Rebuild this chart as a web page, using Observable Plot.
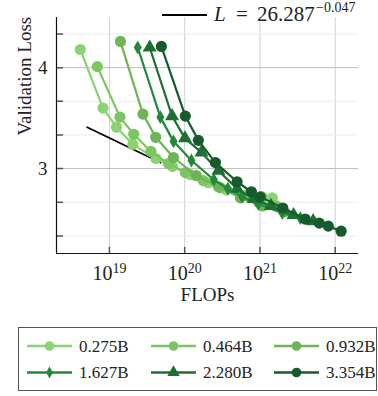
<!DOCTYPE html>
<html><head><meta charset="utf-8">
<script src="https://cdn.jsdelivr.net/npm/d3@7"></script>
<script src="https://cdn.jsdelivr.net/npm/@observablehq/plot@0.6"></script>
<style>
body{margin:0;background:#fff;}
#wrap{position:relative;width:378px;height:396px;font-family:"Liberation Serif",serif;}
#wrap svg{display:block;}
</style></head><body><div id="wrap"></div>
<script>
const seriesNames = ["0.275B","0.464B","0.932B","1.627B","2.280B","3.354B"];
const seriesColors = ["#8bd372","#7cc562","#6fb456","#22883a","#1c7033","#175a2c"];
const seriesSymbols = ["circle","circle","circle","diamond","triangle","circle"];

const flops_0275 = [4.1e18, 8.2e18, 1.24e19, 2.05e19, 4.15e19, 6.9e19, 1.19e20, 2.07e20, 3.58e20, 6.6e20, 1.08e21, 1.46e21];
const loss_0275  = [4.18, 3.60, 3.41, 3.24, 3.10, 3.02, 2.94, 2.86, 2.79, 2.74, 2.72, 2.71];
const flops_0464 = [6.9e18, 1.38e19, 2.1e19, 3.56e19, 6.1e19, 1.02e20, 1.77e20, 2.98e20, 5.5e20, 9.5e20, 1.65e21];
const loss_0464  = [4.01, 3.51, 3.34, 3.17, 3.05, 2.96, 2.88, 2.81, 2.73, 2.67, 2.63];
const flops_0932 = [1.4e19, 2.79e19, 4.12e19, 7.1e19, 1.43e20, 2.81e20, 5.5e20, 1.08e21, 2.11e21];
const loss_0932  = [4.26, 3.54, 3.31, 3.11, 2.93, 2.82, 2.71, 2.63, 2.57];
const flops_1627 = [2.38e19, 4.75e19, 7.1e19, 1.23e20, 2.44e20, 3.75e20, 5.8e20, 9.5e20, 1.98e21, 3.44e21];
const loss_1627  = [4.20, 3.51, 3.27, 3.08, 2.89, 2.80, 2.72, 2.65, 2.56, 2.51];
const flops_2280 = [3.43e19, 6.8e19, 1.01e20, 1.67e20, 2.81e20, 4.97e20, 8.2e20, 1.4e21, 2.8e21, 5.1e21];
const loss_2280  = [4.20, 3.52, 3.30, 3.16, 2.98, 2.80, 2.70, 2.63, 2.54, 2.48];
const flops_3354 = [4.9e19, 1.02e20, 1.52e20, 2.56e20, 4.97e20, 7.7e20, 1.01e21, 2.01e21, 4.0e21, 6.15e21, 8.1e21, 1.2e22];
const loss_3354  = [4.21, 3.52, 3.28, 3.06, 2.87, 2.77, 2.72, 2.61, 2.50, 2.46, 2.43, 2.38];

const fitFlops = [5.06e18, 4.75e19];
const fitLoss = [3.41, 3.06];
const fitLabel = {lhs: "L", eq: "=", base: "26.287", exp: "\u22120.047"};

const xTicks = [1e19, 1e20, 1e21, 1e22];
const yMajorTicks = [3, 4];
const yMinorTicks = [2.333, 2.667, 3.333, 3.667, 4.333];
const xDomain = [1.98e18, 2.04e22];
const yDomain = [2.159, 4.497];

const flopsList = [flops_0275, flops_0464, flops_0932, flops_1627, flops_2280, flops_3354];
const lossList = [loss_0275, loss_0464, loss_0932, loss_1627, loss_2280, loss_3354];

const seriesRows = seriesNames.map((name, i) =>
  flopsList[i].map((f, j) => ({series: name, flops: f, loss: lossList[i][j]})));
const fitRows = fitFlops.map((f, j) => ({flops: f, loss: fitLoss[j]}));

const tickShape = {draw(ctx, l) { ctx.moveTo(0, 0); ctx.lineTo(0, -l); }};
const symSize = {circle: 5.6, diamond: 4.2, triangle: 5.2};

const marks = [
  Plot.ruleX(xTicks, {stroke: "#d0d0d0", strokeWidth: 1}),
  Plot.ruleY(yMinorTicks, {stroke: "#ececec", strokeWidth: 1}),
  Plot.ruleY(yMajorTicks, {stroke: "#bcbcbc", strokeWidth: 1}),
  Plot.vector([...yMinorTicks, ...yMajorTicks], {x: () => xDomain[0], y: d => d, length: 6, rotate: 90, anchor: "start", shape: tickShape, stroke: "#555"}),
  Plot.vector(xTicks, {x: d => d, y: () => yDomain[0], length: 6, rotate: 0, anchor: "start", shape: tickShape, stroke: "#555"}),
  Plot.ruleX([xDomain[0]], {stroke: "#111", strokeWidth: 1.2}),
  Plot.ruleY([yDomain[0]], {stroke: "#111", strokeWidth: 1.2}),
  Plot.line(fitRows, {x: "flops", y: "loss", stroke: "#000", strokeWidth: 1.8})
];
seriesRows.forEach((rows, i) => {
  marks.push(Plot.line(rows, {x: "flops", y: "loss", stroke: seriesColors[i], strokeWidth: 2.2}));
  marks.push(Plot.dot(rows, {x: "flops", y: "loss", fill: seriesColors[i], stroke: "none",
    symbol: seriesSymbols[i], r: symSize[seriesSymbols[i]]}));
});
marks.push(
  Plot.axisY(yMajorTicks, {tickSize: 0, tickPadding: 9, fontSize: 19, label: null, tickFormat: d => String(d)}),
  Plot.axisX(xTicks, {tickSize: 0, tickPadding: 12, fontSize: 20, label: null, tickFormat: d => String(Math.round(Math.log10(d)))}),
  Plot.text(["FLOPs"], {text: d => d, frameAnchor: "bottom", dy: 47, fontSize: 19, fill: "#222"}),
  Plot.text(["Validation Loss"], {text: d => d, frameAnchor: "left", dx: -32, rotate: -90, fontSize: 19, fill: "#222"})
);

const svg = Plot.plot({
  width: 378, height: 320,
  marginLeft: 56, marginRight: 20, marginTop: 17, marginBottom: 67,
  x: {type: "log", domain: xDomain},
  y: {domain: yDomain},
  style: {fontFamily: "'Liberation Serif', serif", fontSize: "19px", color: "#222", background: "#fff"},
  marks
});
document.getElementById("wrap").appendChild(svg);

// superscript exponents on x tick labels
d3.select(svg).selectAll('g[aria-label="x-axis tick label"] text').each(function() {
  const e = this.textContent;
  const t = d3.select(this);
  t.text("");
  t.append("tspan").text("10");
  t.append("tspan").attr("dy", "-7").attr("font-size", "14px").text(e);
});

// fit legend at top
const fitLeg = d3.select(svg).append("g").attr("font-family", "'Liberation Serif', serif")
  .attr("fill", "#222").attr("text-anchor", "start");
fitLeg.append("line").attr("x1", 162).attr("x2", 207).attr("y1", 15).attr("y2", 15).attr("stroke", "#000").attr("stroke-width", 1.8);
const ft = fitLeg.append("text").attr("y", 21).attr("font-size", 21);
ft.append("tspan").attr("x", 214).attr("font-style", "italic").text(fitLabel.lhs);
ft.append("tspan").attr("x", 236).text(fitLabel.eq);
ft.append("tspan").attr("x", 257).text(fitLabel.base);
ft.append("tspan").attr("x", 316).attr("dy", -9).attr("font-size", 14).text(fitLabel.exp);

// series legend below
const symMap = {circle: d3.symbolCircle, diamond: d3.symbolDiamond, triangle: d3.symbolTriangle};
const leg = d3.select("#wrap").append("svg").attr("width", 378).attr("height", 76)
  .attr("font-family", "'Liberation Serif', serif");
leg.append("rect").attr("x", 18.5).attr("y", 7.5).attr("width", 358).attr("height", 63)
  .attr("fill", "#fff").attr("stroke", "#555").attr("stroke-width", 1);
const colX = [27, 151, 274];
const rowY = [26, 52.5];
const legSize = {circle: 4.8, diamond: 3.6, triangle: 4.6};
seriesNames.forEach((name, i) => {
  const cx = colX[i % 3], cy = rowY[Math.floor(i / 3)];
  const g = leg.append("g");
  g.append("line").attr("x1", cx).attr("x2", cx + 45).attr("y1", cy).attr("y2", cy)
    .attr("stroke", seriesColors[i]).attr("stroke-width", 2.5);
  const s = legSize[seriesSymbols[i]];
  g.append("path").attr("transform", `translate(${cx + 22.5},${cy})`)
    .attr("d", d3.symbol(symMap[seriesSymbols[i]], Math.PI * s * s)())
    .attr("fill", seriesColors[i]);
  g.append("text").attr("x", cx + 52).attr("y", cy).attr("dy", "0.35em")
    .attr("font-size", 17).attr("fill", "#222").text(name);
});
</script></body></html>
